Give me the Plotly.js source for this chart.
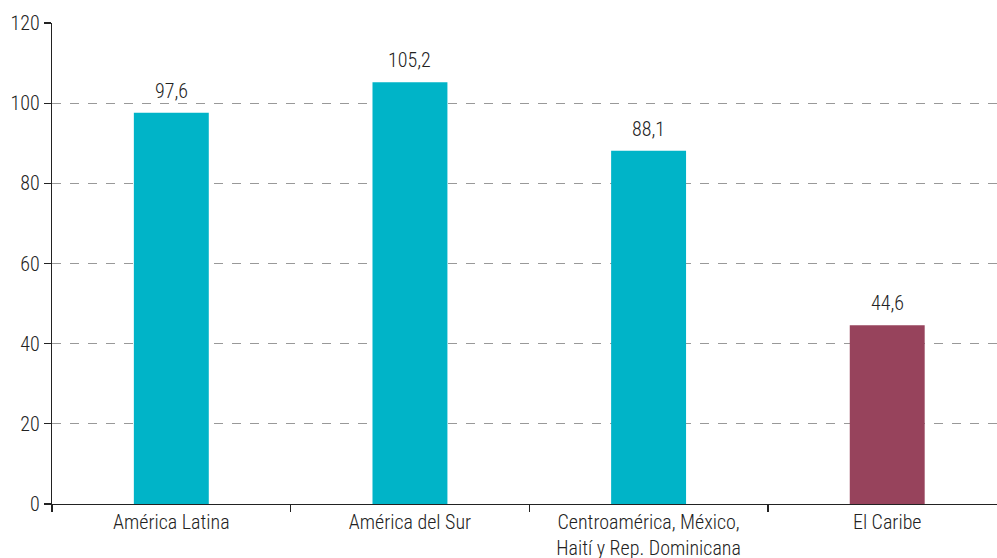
<!DOCTYPE html>
<html>
<head>
<meta charset="utf-8">
<script src="https://cdn.plot.ly/plotly-3.0.1.min.js"></script>
<style>html,body{margin:0;padding:0;background:#fff;}#chart{width:997px;height:558px;}</style>
</head>
<body>
<div id="chart"></div>
<script>
const categories = ["América Latina", "América del Sur", "Centroamérica, México,<br>Haití y Rep. Dominicana", "El Caribe"];
const values = [97.6, 105.2, 88.1, 44.6];
const barColors = ["#00B4C8", "#00B4C8", "#00B4C8", "#97435C"];
const yTicks = [0, 20, 40, 60, 80, 100, 120];

const fontFam = "'Liberation Sans Narrow', 'Roboto Condensed', Roboto, sans-serif";
const txtFont = {family: fontFam, size: 20, color: "#222", weight: 300};

const trace = {
  type: "bar",
  x: categories,
  y: values,
  marker: {color: barColors},
  width: 0.314,
  hoverinfo: "none"
};

const annotations = categories.map((c, i) => ({
  x: c, y: values[i], xref: "x", yref: "y",
  text: values[i].toFixed(1).replace(".", ","),
  showarrow: false, yanchor: "bottom", yshift: 8,
  font: txtFont
}));

const layout = {
  width: 997, height: 558,
  margin: {l: 52, r: 0, t: 23, b: 54},
  paper_bgcolor: "#fff", plot_bgcolor: "#fff",
  separators: ",.",
  showlegend: false,
  font: txtFont,
  annotations: annotations,
  xaxis: {
    range: [-0.5, 3.46],
    showgrid: false,
    showline: true, linecolor: "#222", linewidth: 1.3,
    ticks: "outside", tickson: "boundaries", ticklen: 7, tickcolor: "#222", tickwidth: 1.3,
    tickfont: txtFont,
    zeroline: false,
    fixedrange: true
  },
  yaxis: {
    range: [0, 120],
    tickvals: yTicks,
    showgrid: true, gridcolor: "#999", griddash: "dash", gridwidth: 1,
    showline: true, linecolor: "#222", linewidth: 1.3,
    ticks: "outside", ticklen: 7, tickcolor: "#222", tickwidth: 1.3,
    tickfont: txtFont,
    zeroline: false,
    fixedrange: true
  }
};

Plotly.newPlot("chart", [trace], layout, {staticPlot: true, displayModeBar: false});
</script>
</body>
</html>
